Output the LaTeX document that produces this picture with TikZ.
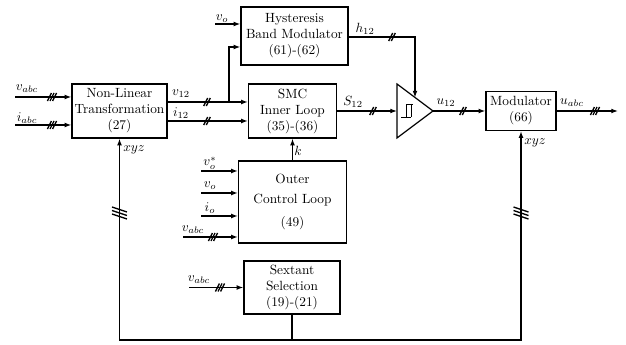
\documentclass[tikz,border=0pt]{standalone}
\usepackage{amsmath,amssymb}
\usepackage{tikz}
\usetikzlibrary{arrows.meta,calc}

\def\px{0.75pt}
\tikzset{
  blk/.style={draw, line width=0.9pt, align=center, inner sep=1pt},
  sig/.style={-{Latex[length=5pt,width=3.6pt]}, line width=0.9pt},
  wire/.style={line width=0.9pt},
  lbl/.style={inner sep=0pt},
  % bus marks: two or three conductors
  dbus/.pic={\foreach \d in {-1.3,1.3} \draw[line width=1pt] (\d-2,-4) -- (\d+2,4);},
  tbus/.pic={\foreach \d in {-2.6,0,2.6} \draw[line width=1pt] (\d-2,-4) -- (\d+2,4);},
  vtbus/.pic={\foreach \d in {-3.5,0,3.5} \draw[line width=1pt] (-7.5,\d+2.5) -- (7.5,\d-2.5);}
}

\begin{document}
\begin{tikzpicture}[x=\px, y=\px]
  \useasboundingbox (0,0) rectangle (626,-345);
  % blocks
  \node[blk, minimum width=95*\px, minimum height=54*\px] (nlt) at (119.5,-111)
    {Non-Linear\\Transformation\\(27)};
  \node[blk, minimum width=107*\px, minimum height=58*\px] (hbm) at (294.5,-36)
    {Hysteresis\\Band Modulator\\(61)-(62)};
  \node[blk, minimum width=88*\px, minimum height=54*\px] (smc) at (292.5,-111)
    {SMC\\Inner Loop\\(35)-(36)};
  \node[blk, minimum width=108*\px, minimum height=82*\px] (ocl) at (292.5,-202)
    {Outer\\[3pt]Control Loop\\[5pt](49)};
  \node[blk, minimum width=96*\px, minimum height=53*\px] (sext) at (292,-287.5)
    {Sextant\\Selection\\(19)-(21)};
  \node[blk, minimum width=70*\px, minimum height=39*\px] (mod) at (521,-111)
    {Modulator\\(66)};
  % hysteresis comparator
  \coordinate (trw) at (397,-111);
  \coordinate (tre) at (433,-111);
  \coordinate (trn) at (415,-97.5);
  \draw[wire] (397,-84) -- (tre) -- (397,-138) -- cycle;
  \draw[line width=0.6pt] (401,-117) -- (411,-117) (406,-117) -- (406,-104) -- (413,-104)
    (411,-104) -- (411,-117);
  % free ends and rows
  \coordinate (in1) at (15,-97);
  \coordinate (in2) at (15,-125);
  \coordinate (in3) at (215,-24);
  \coordinate (in4) at (201,-171);
  \coordinate (in5) at (201,-193);
  \coordinate (in6) at (201,-216);
  \coordinate (in7) at (183,-237);
  \coordinate (in8) at (189,-287.5);
  \coordinate (out1) at (618,-111);
  \coordinate (br) at (229,-102);
  \coordinate (hb) at (0,-47);
  \coordinate (ri) at (0,-121);
  \coordinate (hc) at (415,-37);
  \coordinate (bus) at (0,-340);
  \coordinate (ys) at (0,-213);
  % connectors
  \draw[sig] (in1) -- (in1 -| nlt.west);
  \draw[sig] (in2) -- (in2 -| nlt.west);
  \draw[sig] (br -| nlt.east) -- (br -| smc.west);
  \draw[sig] (br) |- (hbm.west |- hb);
  \draw[sig] (ri -| nlt.east) -- (ri -| smc.west);
  \draw[sig] (in3) -- (in3 -| hbm.west);
  \draw[sig] (hc -| hbm.east) -- (hc) -- (trn);
  \draw[sig] (smc.east) -- (trw);
  \draw[sig] (tre) -- (mod.west);
  \draw[sig] (mod.east) -- (out1);
  \draw[sig] (ocl.north) -- (ocl.north |- smc.south);
  \draw[sig] (in4) -- (in4 -| ocl.west);
  \draw[sig] (in5) -- (in5 -| ocl.west);
  \draw[sig] (in6) -- (in6 -| ocl.west);
  \draw[sig] (in7) -- (in7 -| ocl.west);
  \draw[sig] (in8) -- (sext.west);
  \draw[sig] (sext.south) -- (sext.south |- bus) -| (nlt.south);
  \draw[sig] (sext.south |- bus) -| (mod.south);
  % bus marks
  \foreach \p in {(52,-97),(52,-125),(213,-237),(220,-287.5),(595,-111)}
    \pic at \p {tbus};
  \foreach \p in {(207,-102),(207,-121),(392,-37),(373,-111),(463,-111)}
    \pic at \p {dbus};
  \pic at (nlt.south |- ys) {vtbus};
  \pic at (mod.south |- ys) {vtbus};
  % signal labels
  \node[lbl] (lvabc) at (27,-89) {$v_{abc}$};
  \node[lbl] (liabc) at (27,-118) {$i_{abc}$};
  \node[lbl] (lv12) at (181,-94) {$v_{12}$};
  \node[lbl] (li12) at (181,-113) {$i_{12}$};
  \node[lbl] (lvoh) at (222,-19) {$v_o$};
  \node[lbl] (lh12) at (365,-29) {$h_{12}$};
  \node[lbl] (ls12) at (353,-102) {$S_{12}$};
  \node[lbl] (lu12) at (446,-103) {$u_{12}$};
  \node[lbl] (luabc) at (572,-103) {$u_{abc}$};
  \node[lbl] (lk) at (298,-151) {$k$};
  \node[lbl] (lxyz1) at (134,-150) {$xyz$};
  \node[lbl] (lxyz2) at (535,-143) {$xyz$};
  \node[lbl] (lvos) at (210,-163) {$v_o^*$};
  \node[lbl] (lvo) at (210,-186) {$v_o$};
  \node[lbl] (lio) at (210,-208) {$i_o$};
  \node[lbl] (lvabc2) at (193,-230) {$v_{abc}$};
  \node[lbl] (lvabc3) at (199,-280) {$v_{abc}$};
\end{tikzpicture}
\end{document}
